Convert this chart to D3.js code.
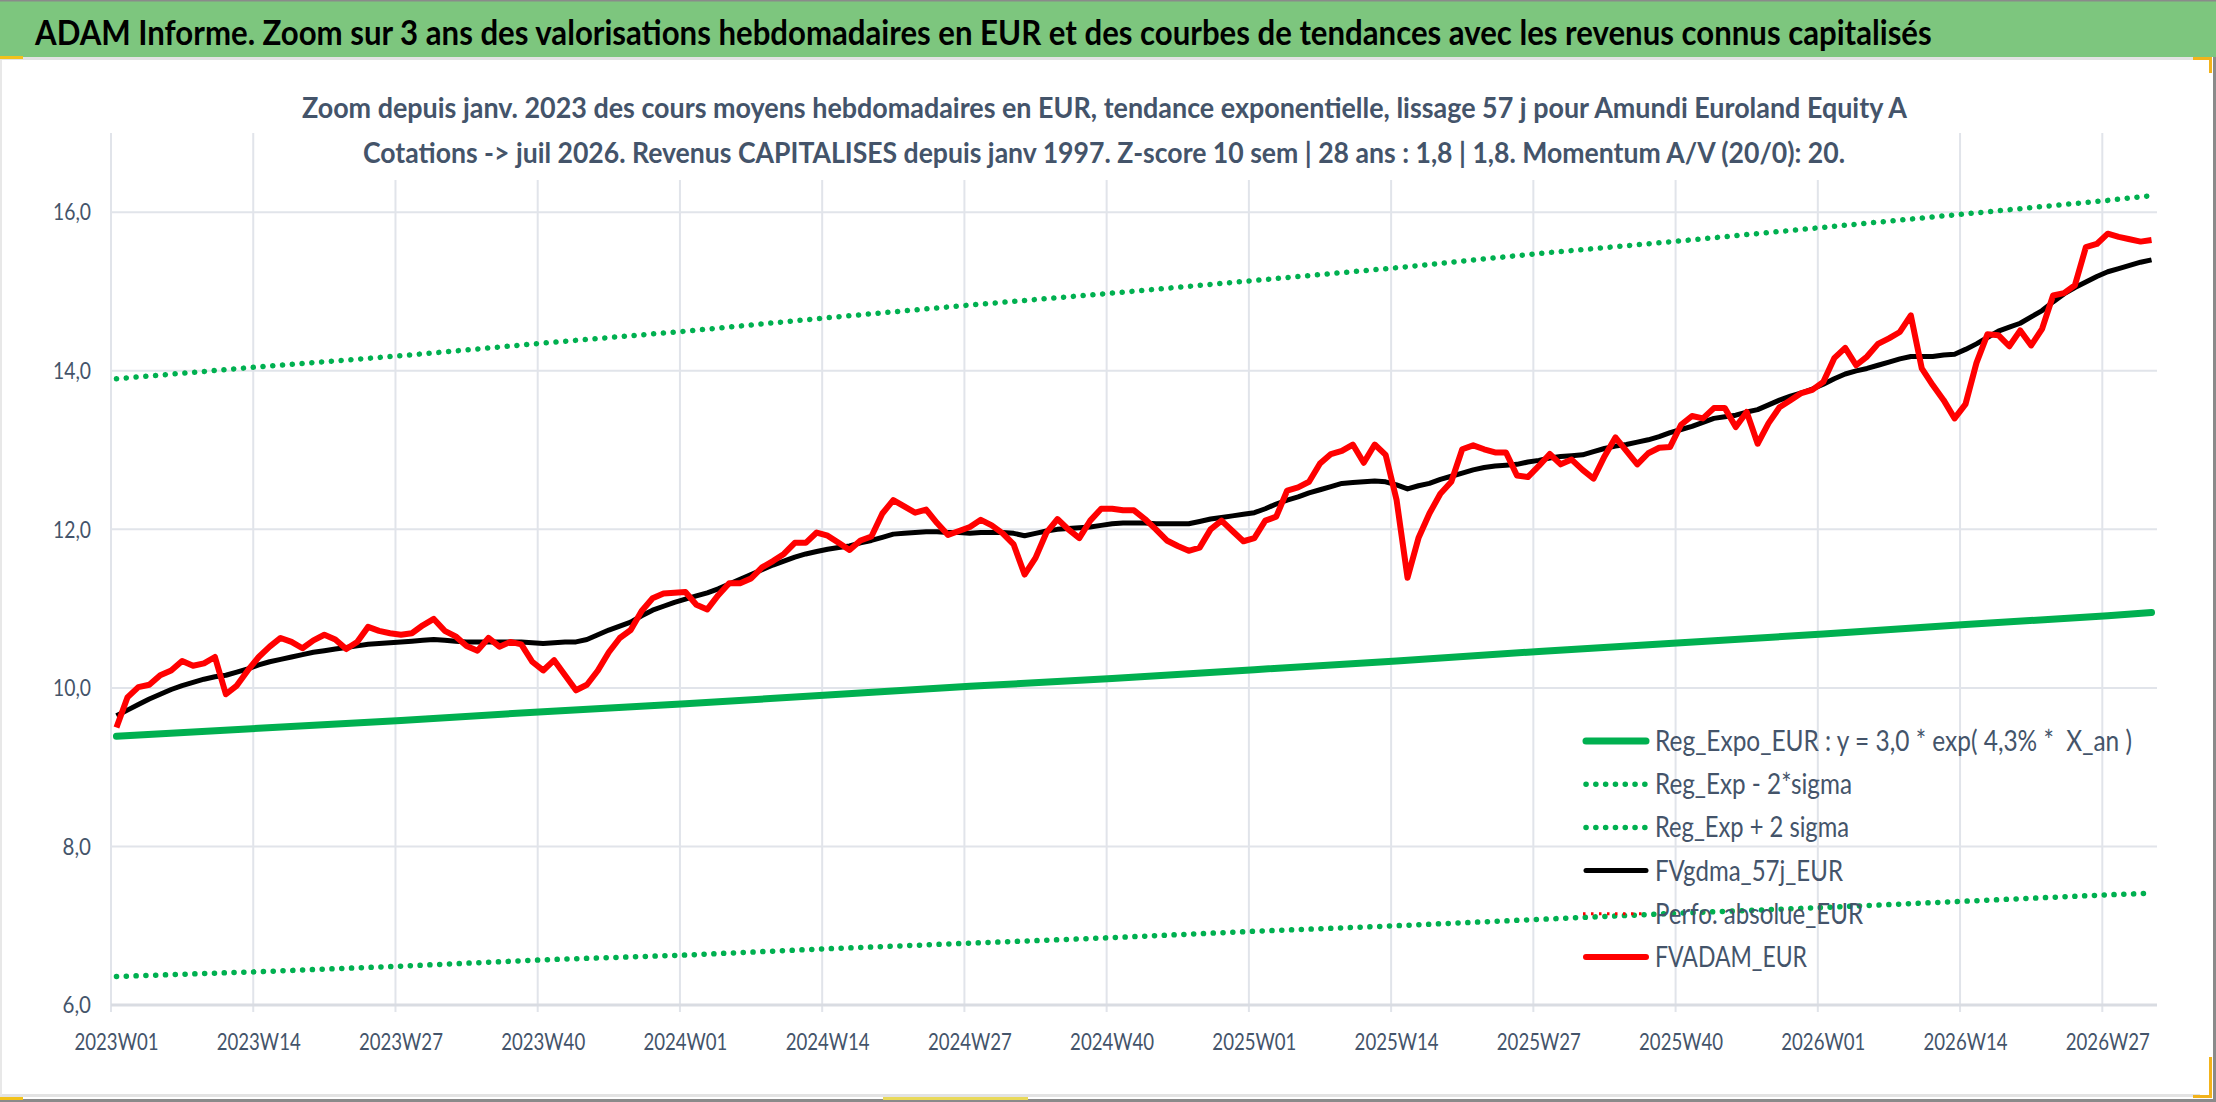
<!DOCTYPE html>
<html>
<head>
<meta charset="utf-8">
<script src="https://cdn.jsdelivr.net/npm/d3@7"></script>
<style>
  body { margin: 0; background: #ffffff; }
  svg text { font-family: Lato, "Open Sans", sans-serif; }
</style>
</head>
<body>
<div id="chart"></div>
<script>
/* Data */
var years = [2023, 2024, 2025, 2026];
var weeksPerYear = 52;

var tickLabels = ["2023W01", "2023W14", "2023W27", "2023W40",
  "2024W01", "2024W14", "2024W27", "2024W40",
  "2025W01", "2025W14", "2025W27", "2025W40",
  "2026W01", "2026W14", "2026W27"];

var yTicks = [6, 8, 10, 12, 14, 16];

// trend curves read at each labelled week + last week
var trendWeeks = tickLabels.concat(["2026W31"]);
var regExpo = [9.39, 9.49, 9.59, 9.70, 9.80, 9.91, 10.02, 10.12, 10.23, 10.34, 10.46, 10.57, 10.68, 10.80, 10.91, 10.95];
var regMinus = [6.36, 6.42, 6.49, 6.57, 6.63, 6.71, 6.78, 6.85, 6.93, 7.00, 7.08, 7.16, 7.23, 7.31, 7.39, 7.41];
var regPlus = [13.90, 14.05, 14.19, 14.35, 14.50, 14.67, 14.83, 14.98, 15.14, 15.30, 15.48, 15.64, 15.81, 15.98, 16.15, 16.21];

// weekly values, 2023W01 -> 2026W31
var fvgdma = [9.65, 9.72, 9.79, 9.86, 9.92, 9.98, 10.03, 10.07, 10.11, 10.14,
  10.16, 10.20, 10.24, 10.29, 10.33, 10.36, 10.39, 10.42, 10.45, 10.47,
  10.49, 10.51, 10.53, 10.55, 10.56, 10.57, 10.58, 10.59, 10.60, 10.61,
  10.60, 10.59, 10.58, 10.58, 10.58, 10.58, 10.58, 10.58, 10.57, 10.56,
  10.57, 10.58, 10.58, 10.61, 10.67, 10.73, 10.78, 10.83, 10.91, 10.98,
  11.03, 11.08, 11.12, 11.16, 11.20, 11.25, 11.31, 11.37, 11.43, 11.49,
  11.55, 11.60, 11.65, 11.69, 11.72, 11.75, 11.77, 11.79, 11.83, 11.86,
  11.90, 11.94, 11.95, 11.96, 11.97, 11.97, 11.96, 11.96, 11.95, 11.96,
  11.96, 11.96, 11.95, 11.92, 11.95, 11.98, 12.00, 12.01, 12.02, 12.03,
  12.05, 12.07, 12.08, 12.08, 12.08, 12.07, 12.07, 12.07, 12.07, 12.10,
  12.13, 12.15, 12.17, 12.19, 12.21, 12.26, 12.32, 12.37, 12.41, 12.46,
  12.50, 12.54, 12.58, 12.59, 12.60, 12.61, 12.60, 12.56, 12.51, 12.55,
  12.58, 12.63, 12.67, 12.71, 12.75, 12.78, 12.80, 12.81, 12.82, 12.85,
  12.87, 12.90, 12.92, 12.93, 12.94, 12.98, 13.02, 13.05, 13.07, 13.10,
  13.13, 13.17, 13.22, 13.26, 13.30, 13.35, 13.40, 13.42, 13.44, 13.48,
  13.51, 13.57, 13.63, 13.68, 13.72, 13.77, 13.83, 13.90, 13.96, 14.00,
  14.03, 14.07, 14.11, 14.15, 14.18, 14.18, 14.18, 14.20, 14.21, 14.27,
  14.34, 14.42, 14.50, 14.55, 14.60, 14.68, 14.76, 14.87, 14.97, 15.05,
  15.12, 15.19, 15.25, 15.29, 15.33, 15.37, 15.40];

var fvadam = [9.50, 9.88, 10.01, 10.04, 10.16, 10.22, 10.34, 10.28, 10.31, 10.39,
  9.92, 10.03, 10.22, 10.39, 10.52, 10.63, 10.58, 10.50, 10.60, 10.67,
  10.61, 10.49, 10.58, 10.77, 10.72, 10.69, 10.67, 10.69, 10.79, 10.87,
  10.72, 10.65, 10.53, 10.47, 10.63, 10.52, 10.58, 10.55, 10.33, 10.22,
  10.35, 10.16, 9.97, 10.04, 10.22, 10.45, 10.63, 10.73, 10.97, 11.13,
  11.19, 11.20, 11.21, 11.05, 10.99, 11.17, 11.32, 11.32, 11.38, 11.52,
  11.60, 11.69, 11.83, 11.83, 11.96, 11.92, 11.83, 11.74, 11.86, 11.91,
  12.20, 12.37, 12.29, 12.21, 12.25, 12.08, 11.93, 11.98, 12.03, 12.12,
  12.05, 11.95, 11.81, 11.43, 11.64, 11.96, 12.13, 12.00, 11.89, 12.11,
  12.26, 12.26, 12.24, 12.24, 12.13, 12.00, 11.86, 11.79, 11.73, 11.77,
  12.00, 12.11, 11.98, 11.85, 11.89, 12.11, 12.16, 12.49, 12.53, 12.60,
  12.83, 12.95, 12.99, 13.07, 12.84, 13.07, 12.94, 12.37, 11.39, 11.89,
  12.20, 12.45, 12.60, 13.01, 13.06, 13.01, 12.97, 12.97, 12.68, 12.66,
  12.80, 12.95, 12.82, 12.88, 12.75, 12.64, 12.92, 13.16, 12.99, 12.82,
  12.96, 13.03, 13.04, 13.32, 13.43, 13.40, 13.53, 13.53, 13.29, 13.48,
  13.08, 13.34, 13.54, 13.63, 13.72, 13.76, 13.86, 14.16, 14.29, 14.07,
  14.18, 14.34, 14.41, 14.49, 14.70, 14.03, 13.82, 13.63, 13.40, 13.58,
  14.10, 14.46, 14.45, 14.31, 14.51, 14.32, 14.53, 14.95, 14.98, 15.08,
  15.56, 15.60, 15.73, 15.69, 15.66, 15.63, 15.65];

var legendLabels = ["Reg_Expo_EUR : y = 3,0 * exp( 4,3% *  X_an )",
  "Reg_Exp - 2*sigma", "Reg_Exp + 2 sigma", "FVgdma_57j_EUR",
  "Perfo. absolue_EUR", "FVADAM_EUR"];

var title = "ADAM Informe. Zoom sur 3 ans des valorisations hebdomadaires en EUR et des courbes de tendances avec les revenus connus capitalisés";
var subtitle1 = "Zoom depuis janv. 2023 des cours moyens hebdomadaires en EUR, tendance exponentielle, lissage 57 j pour Amundi Euroland Equity A";
var subtitle2 = "Cotations -> juil 2026. Revenus CAPITALISES depuis janv 1997. Z-score 10 sem | 28 ans : 1,8 | 1,8. Momentum A/V (20/0): 20.";

/* Layout */
var chart = {
  width: 2216,
  height: 1102,
  left: 111,
  right: 2157,
  top: 133,
  bottom: 1005,
}
var textColor = "#44546a";
var gridColor = "#e1e4ea";
var dots = "0.1 9.7";

var categories = [];
years.forEach((yr) => {
  for (let w = 1; w <= weeksPerYear; w++) {
    categories.push(yr + "W" + (w < 10 ? "0" + w : w));
  }
});
categories = categories.slice(0, fvadam.length);

var svg = d3.select("#chart")
  .append("svg")
  .attr("width", chart.width)
  .attr("height", chart.height);

/* Frame */
svg.append("rect").attr("width", chart.width).attr("height", chart.height).style("fill", "#ffffff");
svg.append("rect").attr("x", 0).attr("y", 0).attr("width", chart.width).attr("height", 57).style("fill", "#7dc67e");
svg.append("rect").attr("x", 0).attr("y", 0).attr("width", chart.width).attr("height", 1.5).style("fill", "#8a8a8a");
svg.append("rect").attr("x", 0).attr("y", 57).attr("width", 2200).attr("height", 3).style("fill", "#e3e3e3");
svg.append("rect").attr("x", 0).attr("y", 1094).attr("width", 2200).attr("height", 3).style("fill", "#e3e3e3");
svg.append("rect").attr("x", 0).attr("y", 1099).attr("width", chart.width).attr("height", 3).style("fill", "#8a8a8a");
svg.append("rect").attr("x", 2213).attr("y", 57).attr("width", 3).attr("height", 1045).style("fill", "#8a8a8a");
svg.append("rect").attr("x", 0).attr("y", 60).attr("width", 2).attr("height", 1035).style("fill", "#e8e8e8");
// selection handles
svg.append("rect").attr("x", 0).attr("y", 56).attr("width", 23).attr("height", 3).style("fill", "#f2c21b");
svg.append("rect").attr("x", 0).attr("y", 1097).attr("width", 23).attr("height", 3).style("fill", "#f2c21b");
svg.append("rect").attr("x", 883).attr("y", 1097).attr("width", 145).attr("height", 3).style("fill", "#e9d95a");
svg.append("path").attr("d", "M2193,58.5H2210.5V73").style("fill", "none").style("stroke", "#f2b31b").style("stroke-width", 3);
svg.append("path").attr("d", "M2210.5,1057V1096.5H2193").style("fill", "none").style("stroke", "#f2b31b").style("stroke-width", 3);

/* Title, squeezed horizontally to the width it has in the picture */
var titleText = svg.append("text")
  .style("font-size", "35px")
  .style("font-weight", "bold")
  .style("fill", "#000000")
  .text(title);
var titleScale = Math.min(1, 1898 / titleText.node().getComputedTextLength());
titleText.attr("transform", "translate(35,45) scale(" + titleScale + ",1)");

/* Scales */
var x = d3.scaleBand()
  .domain(categories)
  .range([chart.left, chart.right]);
var bw = x.bandwidth();

var y = d3.scaleLinear()
  .domain([6, 17])
  .range([chart.bottom, chart.top]);

var fr = d3.formatLocale({ decimal: ",", thousands: " ", grouping: [3], currency: ["", " €"] });

/* Grid */
svg.append("g")
  .selectAll("line")
  .data(tickLabels)
  .enter()
  .append("line")
  .attr("x1", (d) => x(d))
  .attr("x2", (d) => x(d))
  .attr("y1", chart.top)
  .attr("y2", chart.bottom + 7)
  .style("stroke", gridColor)
  .style("stroke-width", 2);

svg.append("g")
  .selectAll("line")
  .data(yTicks)
  .enter()
  .append("line")
  .attr("x1", chart.left)
  .attr("x2", chart.right)
  .attr("y1", (d) => y(d))
  .attr("y2", (d) => y(d))
  .style("stroke", (d) => d === 6 ? "#d9dce2" : gridColor)
  .style("stroke-width", (d) => d === 6 ? 3 : 2);

/* Subtitle box hides the grid behind it */
svg.append("rect")
  .attr("x", 295)
  .attr("y", 80)
  .attr("width", 1620)
  .attr("height", 100)
  .style("fill", "#ffffff");

svg.append("text")
  .attr("x", 302)
  .attr("y", 118)
  .attr("textLength", 1605)
  .attr("lengthAdjust", "spacingAndGlyphs")
  .style("font-size", "28px")
  .style("font-weight", "bold")
  .style("fill", textColor)
  .text(subtitle1);

svg.append("text")
  .attr("x", 363)
  .attr("y", 163)
  .attr("textLength", 1482)
  .attr("lengthAdjust", "spacingAndGlyphs")
  .style("font-size", "28px")
  .style("font-weight", "bold")
  .style("fill", textColor)
  .text(subtitle2);

/* Axes */
svg.append("g")
  .attr("transform", "translate(0," + chart.bottom + ")")
  .call(d3.axisBottom(x).tickValues(tickLabels).tickSize(0).tickPadding(28))
  .call((g) => g.select(".domain").remove())
  .selectAll("text")
  .attr("textLength", 84)
  .attr("lengthAdjust", "spacingAndGlyphs")
  .style("font-family", "Lato, 'Open Sans', sans-serif")
  .style("font-size", "24px")
  .style("fill", textColor);

svg.append("g")
  .attr("transform", "translate(91,0)")
  .call(d3.axisLeft(y).tickValues(yTicks).tickSize(0).tickPadding(0).tickFormat(fr.format(".1f")))
  .call((g) => g.select(".domain").remove())
  .selectAll("text")
  .attr("textLength", (d) => fr.format(".1f")(d).length * 9.5)
  .attr("lengthAdjust", "spacingAndGlyphs")
  .style("font-family", "Lato, 'Open Sans', sans-serif")
  .style("font-size", "24px")
  .style("fill", textColor);

/* Series */
var weekly = d3.line()
  .x((d, i) => x(categories[i]) + bw / 2)
  .y((d) => y(d));
var trend = d3.line()
  .x((d, i) => x(trendWeeks[i]) + bw / 2)
  .y((d) => y(d));

svg.append("path")
  .attr("d", trend(regExpo))
  .style("fill", "none")
  .style("stroke", "#00b050")
  .style("stroke-width", 7)
  .style("stroke-linecap", "round");

[regMinus, regPlus].forEach((band) => {
  svg.append("path")
    .attr("d", trend(band))
    .style("fill", "none")
    .style("stroke", "#00b050")
    .style("stroke-width", 5.5)
    .style("stroke-linecap", "round")
    .style("stroke-dasharray", dots);
});

svg.append("path")
  .attr("d", weekly(fvgdma))
  .style("fill", "none")
  .style("stroke", "#000000")
  .style("stroke-width", 5)
  .style("stroke-linejoin", "round");

svg.append("path")
  .attr("d", weekly(fvadam))
  .style("fill", "none")
  .style("stroke", "#ff0000")
  .style("stroke-width", 6)
  .style("stroke-linejoin", "round");

/* Legend */
var legendStyles = [
  { color: "#00b050", width: 7, dash: null, cap: "round" },
  { color: "#00b050", width: 5.5, dash: dots, cap: "round" },
  { color: "#00b050", width: 5.5, dash: dots, cap: "round" },
  { color: "#000000", width: 5, dash: null, cap: "round" },
  { color: "#ff0000", width: 3, dash: "2.5 5.5", cap: "butt" },
  { color: "#ff0000", width: 6, dash: null, cap: "round" },
];
var legendWidths = [477, 197, 194, 188, 208, 152];

var legend = svg.append("g")
  .selectAll("g")
  .data(legendLabels)
  .enter()
  .append("g")
  .attr("transform", (d, i) => "translate(0," + (741 + i * 43.2) + ")");

legend.append("line")
  .attr("x1", (d, i) => legendStyles[i].cap === "round" ? 1586 : 1583)
  .attr("x2", 1646)
  .style("stroke", (d, i) => legendStyles[i].color)
  .style("stroke-width", (d, i) => legendStyles[i].width)
  .style("stroke-linecap", (d, i) => legendStyles[i].cap)
  .style("stroke-dasharray", (d, i) => legendStyles[i].dash);

legend.append("text")
  .attr("x", 1655)
  .attr("y", 10)
  .attr("textLength", (d, i) => legendWidths[i])
  .attr("lengthAdjust", "spacingAndGlyphs")
  .style("white-space", "pre")
  .style("font-size", "28px")
  .style("fill", textColor)
  .text((d) => d);
</script>
</body>
</html>
